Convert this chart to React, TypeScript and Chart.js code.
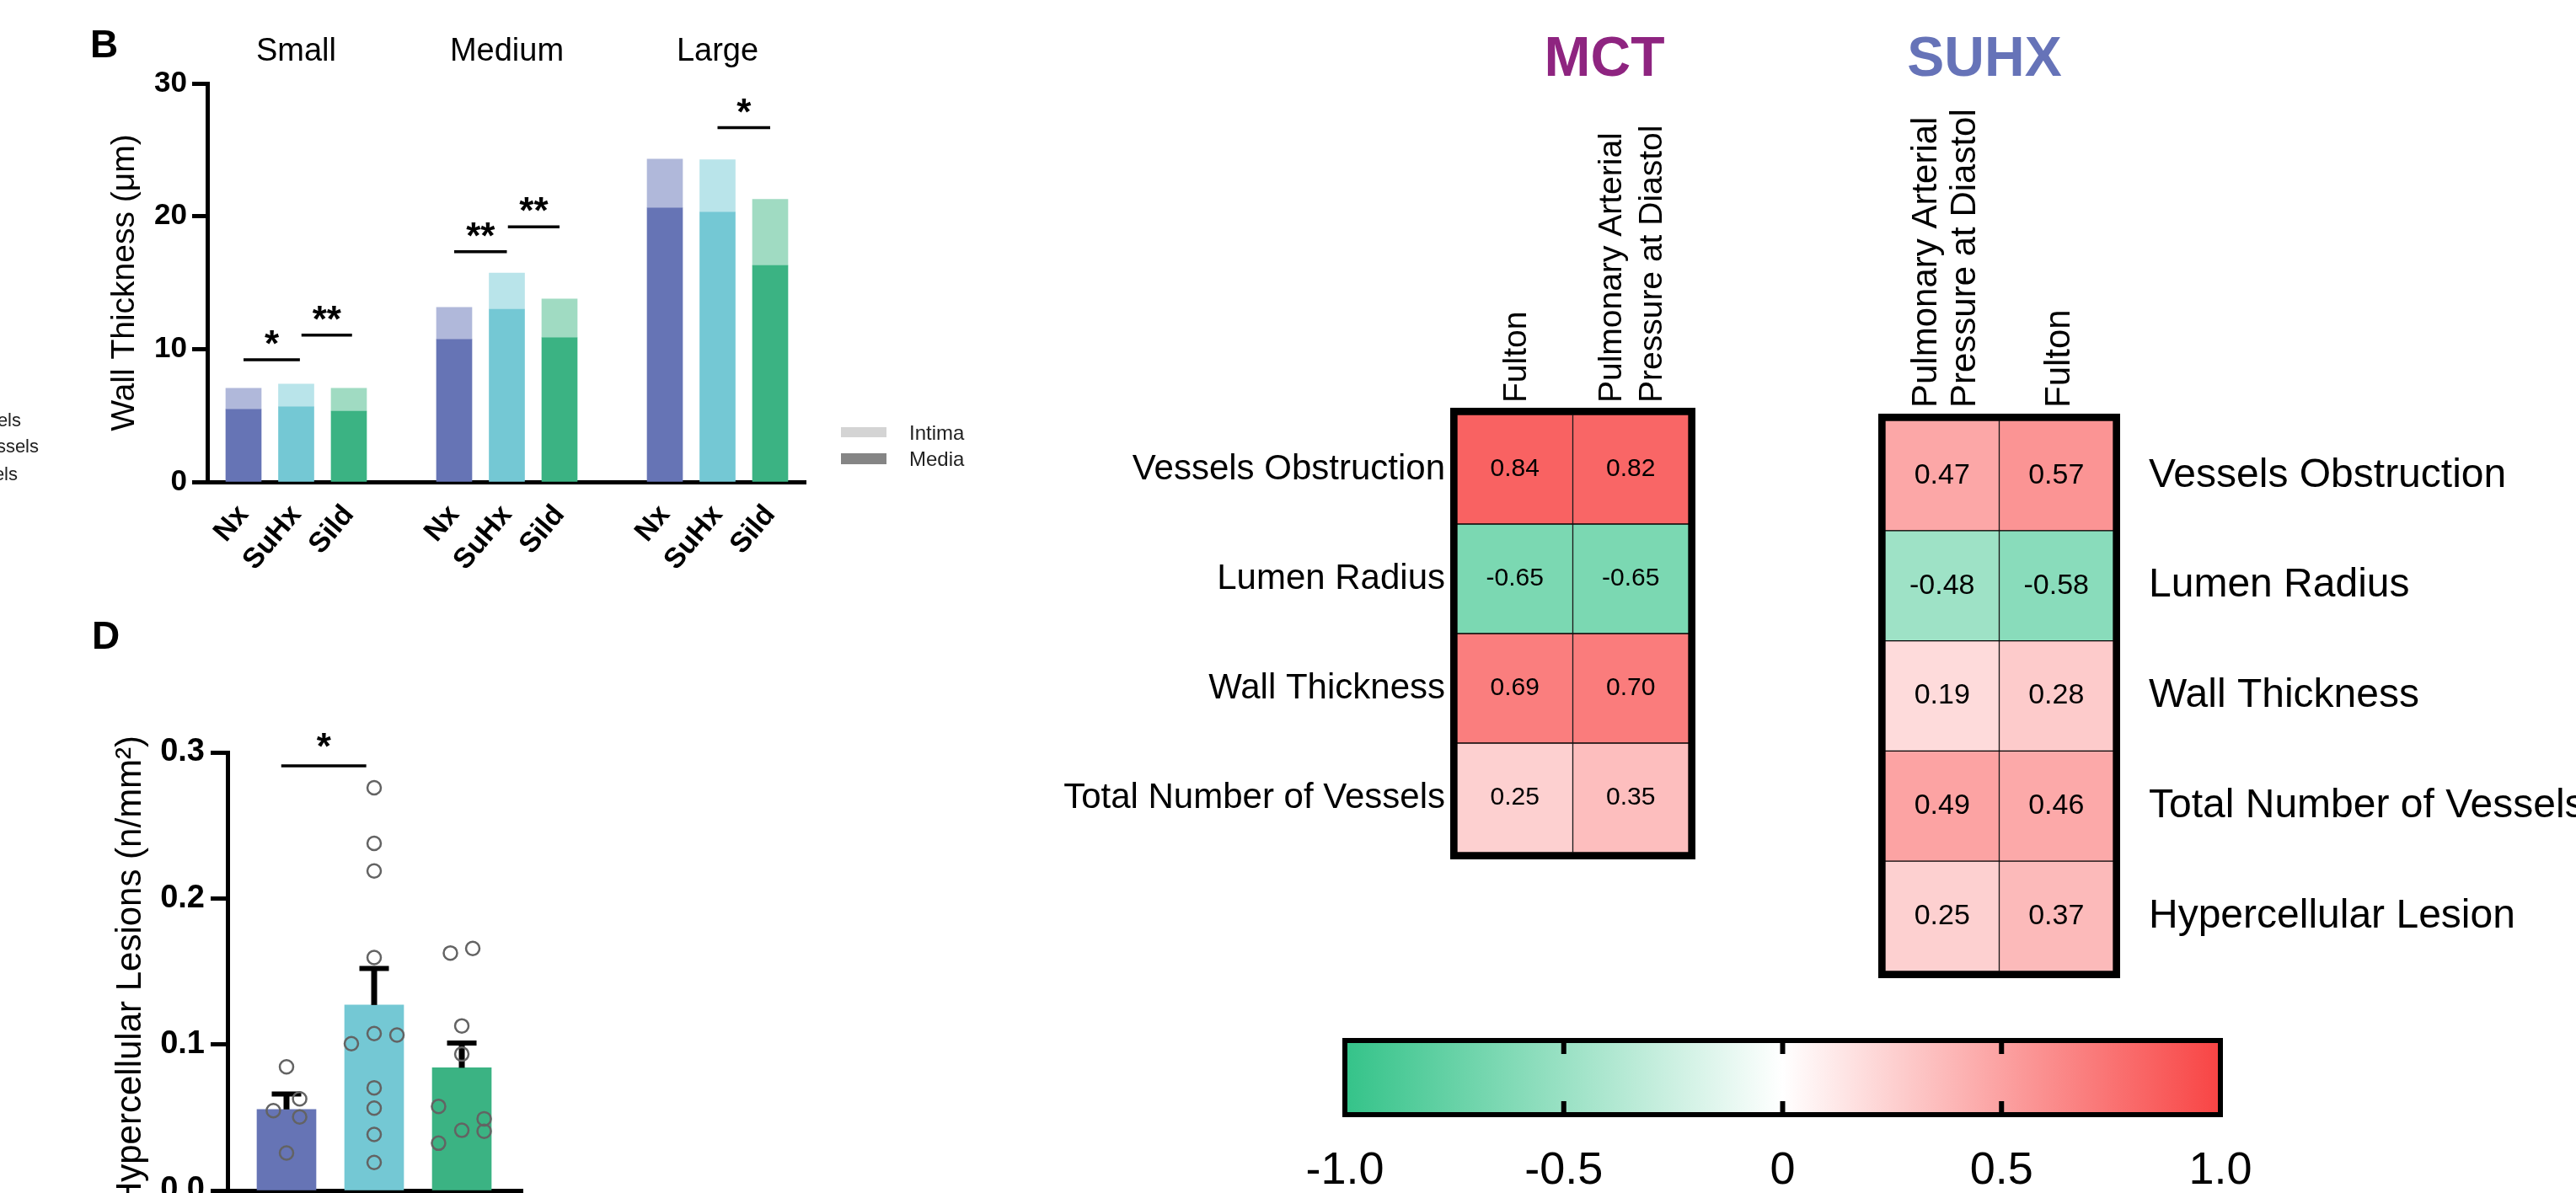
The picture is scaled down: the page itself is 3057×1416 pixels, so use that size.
import React, { useEffect, useRef } from 'react';
import { Chart, registerables } from 'chart.js';

Chart.register(...registerables);

const SANS = "'Liberation Sans', Arial, Helvetica, sans-serif";
Chart.defaults.font.family = SANS;
Chart.defaults.color = '#000';

// ---------------- Panel B : wall thickness ----------------
const vesselSizes = ['Small', 'Medium', 'Large'];
const groupNames = ['Nx', 'SuHx', 'Sild'];
const barSlotsB = [0, 1, 2, 4, 5, 6, 8, 9, 10];
const mediaB = [5.46, 5.65, 5.33, 10.73, 13.0, 10.86, 20.63, 20.3, 16.3];
const intimaB = [1.59, 1.72, 1.72, 2.41, 2.73, 2.92, 3.67, 3.95, 4.97];
const wallTicks = [0, 10, 20, 30];
const sigFromB = [0, 1.1, 4, 5.02, 9];
const sigToB = [1.07, 2.06, 5, 6, 10];
const sigLevelB = [9.2, 11.05, 17.33, 19.2, 26.67];
const sigTextB = ['*', '**', '**', '**', '*'];
const legendB = ['Intima', 'Media'];
const cutLegend = ['Small Vessels', 'Medium Vessels', 'Large Vessels'];
const mediaColors = ['#6674B5', '#74C8D4', '#3BB383'];
const intimaColors = ['#B0B8DA', '#B9E4EA', '#A0DBC2'];

// ---------------- Panel D : hypercellular lesions ----------------
const meanD = [0.0555, 0.127, 0.084];
const semD = [0.0105, 0.025, 0.017];
const nxPoints = [0.0847, 0.0627, 0.0547, 0.0503, 0.0257];
const nxJitter = [0, 0.15, -0.15, 0.15, 0];
const suhxPoints = [0.2758, 0.2377, 0.2188, 0.1595, 0.1005, 0.1075, 0.1064, 0.0703, 0.0564, 0.0384, 0.0192];
const suhxJitter = [0, 0, 0, 0, -0.26, 0, 0.26, 0, 0, 0, 0];
const sildPoints = [0.1626, 0.1657, 0.1127, 0.0934, 0.0576, 0.0491, 0.0412, 0.0406, 0.0324];
const sildJitter = [-0.13, 0.125, 0, 0, -0.265, 0.255, 0, 0.255, -0.265];
const lesionTicks = [0, 0.1, 0.2, 0.3];
const sigD = { from: -0.06, to: 0.91, level: 0.2908, text: '*' };

// ---------------- Correlation heatmaps ----------------
const mctRows = ['Vessels Obstruction', 'Lumen Radius', 'Wall Thickness', 'Total Number of Vessels'];
const mctFulton = [0.84, -0.65, 0.69, 0.25];
const mctPAPD = [0.82, -0.65, 0.7, 0.35];
const mctHeadTicks = [0.5, 1.325, 1.675];
const mctHeadLabels = ['Fulton', 'Pulmonary Arterial', 'Pressure at Diastol'];

const suhxRows = ['Vessels Obstruction', 'Lumen Radius', 'Wall Thickness', 'Total Number of Vessels', 'Hypercellular Lesion'];
const suhxPAPD = [0.47, -0.48, 0.19, 0.49, 0.25];
const suhxFulton = [0.57, -0.58, 0.28, 0.46, 0.37];
const suhxHeadTicks = [0.33, 0.67, 1.5];
const suhxHeadLabels = ['Pulmonary Arterial', 'Pressure at Diastol', 'Fulton'];

const colorbarTicks = [-1, -0.5, 0, 0.5, 1];
const colorbarLabels = ['-1.0', '-0.5', '0', '0.5', '1.0'];
const colorbarStubs = [-0.5, 0, 0.5];

const NEG = [52, 195, 137];
const POS = [248, 68, 68];
function corrColor(v: number) {
  const t = Math.min(1, Math.abs(v));
  const c = v < 0 ? NEG : POS;
  const m = c.map((k) => Math.round(255 + (k - 255) * t));
  return `rgb(${m[0]},${m[1]},${m[2]})`;
}

const base: any = {
  responsive: false,
  animation: false,
  devicePixelRatio: 1,
  events: [],
  plugins: { legend: { display: false }, tooltip: { enabled: false } },
};

// ---------------- configs ----------------
function makeB(): any {
  const plugin = {
    id: 'panelB',
    afterDatasetsDraw(chart: any) {
      const { ctx, scales } = chart;
      const x = scales.x, y = scales.y;
      ctx.save();
      ctx.fillStyle = '#000';
      ctx.strokeStyle = '#000';
      ctx.textBaseline = 'alphabetic';
      ctx.textAlign = 'left';
      ctx.font = `bold 46px ${SANS}`;
      ctx.fillText('B', 107, 68);
      ctx.font = `38px ${SANS}`;
      ctx.textAlign = 'center';
      vesselSizes.forEach((s, g) => ctx.fillText(s, x.getPixelForValue(barSlotsB[g * 3 + 1]), 72));
      ctx.lineWidth = 3.5;
      sigTextB.forEach((t, k) => {
        const y0 = y.getPixelForValue(sigLevelB[k]);
        const x1 = x.getPixelForValue(sigFromB[k]);
        const x2 = x.getPixelForValue(sigToB[k]);
        ctx.beginPath();
        ctx.moveTo(x1, y0);
        ctx.lineTo(x2, y0);
        ctx.stroke();
        ctx.font = `bold 44px ${SANS}`;
        ctx.fillText(t, (x1 + x2) / 2, y0 - 4);
      });
      // legend
      ctx.fillStyle = '#D4D4D4';
      ctx.fillRect(998, 507, 54, 12);
      ctx.fillStyle = '#858585';
      ctx.fillRect(998, 538, 54, 13);
      ctx.fillStyle = '#222';
      ctx.font = `24px ${SANS}`;
      ctx.textAlign = 'left';
      ctx.fillText(legendB[0], 1079, 522);
      ctx.fillText(legendB[1], 1079, 553);
      // cut-off legend from a neighbouring panel
      ctx.textAlign = 'right';
      ctx.font = `22px ${SANS}`;
      ctx.fillText(cutLegend[0], 25, 506);
      ctx.fillText(cutLegend[1], 46, 537);
      ctx.fillText(cutLegend[2], 21, 570);
      ctx.restore();
    },
  };
  return {
    type: 'bar',
    data: {
      datasets: [
        {
          label: 'Media',
          data: barSlotsB.map((s, i) => ({ x: s, y: mediaB[i] })),
          backgroundColor: barSlotsB.map((_, i) => mediaColors[i % 3]),
          barThickness: 42,
          borderWidth: 0,
        },
        {
          label: 'Intima',
          data: barSlotsB.map((s, i) => ({ x: s, y: intimaB[i] })),
          backgroundColor: barSlotsB.map((_, i) => intimaColors[i % 3]),
          barThickness: 42,
          borderWidth: 0,
        },
      ],
    },
    options: {
      ...base,
      layout: { padding: { left: 125, right: 244, top: 99, bottom: 0 } },
      scales: {
        x: {
          type: 'linear',
          stacked: true,
          offset: false,
          min: -0.688,
          max: 10.672,
          afterBuildTicks: (s: any) => {
            s.ticks = barSlotsB.map((v) => ({ value: v }));
          },
          afterFit: (s: any) => {
            s.height = 148;
          },
          ticks: {
            autoSkip: false,
            minRotation: 50,
            maxRotation: 50,
            padding: 20,
            color: '#000',
            font: { family: SANS, size: 34, weight: 'bold' },
            callback: (_v: any, i: number) => groupNames[i % 3],
          },
          grid: { display: false, drawTicks: false },
          border: { display: true, color: '#000', width: 5 },
        },
        y: {
          type: 'linear',
          stacked: true,
          min: 0,
          max: 30,
          afterBuildTicks: (s: any) => {
            s.ticks = wallTicks.map((v) => ({ value: v }));
          },
          afterFit: (s: any) => {
            s.width = 121;
          },
          ticks: { padding: 6, color: '#000', font: { family: SANS, size: 35, weight: 'bold' } },
          grid: { drawOnChartArea: false, drawTicks: true, tickLength: 18, tickWidth: 5, tickColor: '#000' },
          border: { display: true, color: '#000', width: 5 },
          title: { display: true, text: 'Wall Thickness (μm)', color: '#000', padding: 0, font: { family: SANS, size: 39 } },
        },
      },
    },
    plugins: [plugin],
  };
}

function makeD(): any {
  const pointSets = [
    { vals: nxPoints, jit: nxJitter },
    { vals: suhxPoints, jit: suhxJitter },
    { vals: sildPoints, jit: sildJitter },
  ];
  const points: any[] = [];
  pointSets.forEach((g, gi) => g.vals.forEach((v, k) => points.push({ x: gi + g.jit[k], y: v })));
  const plugin = {
    id: 'panelD',
    afterDatasetDraw(chart: any, args: any) {
      if (args.index !== 0) return;
      const { ctx, scales } = chart;
      const x = scales.x, y = scales.y;
      ctx.save();
      ctx.strokeStyle = '#000';
      meanD.forEach((m, i) => {
        const px = x.getPixelForValue(i);
        const yTop = y.getPixelForValue(m + semD[i]);
        ctx.lineWidth = 7;
        ctx.beginPath();
        ctx.moveTo(px, y.getPixelForValue(m));
        ctx.lineTo(px, yTop);
        ctx.stroke();
        ctx.lineWidth = 6;
        ctx.beginPath();
        ctx.moveTo(px - 17.5, yTop);
        ctx.lineTo(px + 17.5, yTop);
        ctx.stroke();
      });
      ctx.restore();
    },
    afterDatasetsDraw(chart: any) {
      const { ctx, scales } = chart;
      const x = scales.x, y = scales.y;
      ctx.save();
      ctx.fillStyle = '#000';
      ctx.strokeStyle = '#000';
      ctx.textBaseline = 'alphabetic';
      ctx.font = `bold 46px ${SANS}`;
      ctx.textAlign = 'left';
      ctx.fillText('D', 109, 120);
      const y0 = y.getPixelForValue(sigD.level);
      const x1 = x.getPixelForValue(sigD.from);
      const x2 = x.getPixelForValue(sigD.to);
      ctx.lineWidth = 3.5;
      ctx.beginPath();
      ctx.moveTo(x1, y0);
      ctx.lineTo(x2, y0);
      ctx.stroke();
      ctx.font = `bold 44px ${SANS}`;
      ctx.textAlign = 'center';
      ctx.fillText(sigD.text, (x1 + x2) / 2, y0 - 8);
      ctx.restore();
    },
  };
  return {
    type: 'bar',
    data: {
      datasets: [
        {
          type: 'bar',
          data: meanD.map((m, i) => ({ x: i, y: m })),
          backgroundColor: mediaColors,
          barThickness: 70,
          borderWidth: 0,
          order: 2,
        },
        {
          type: 'scatter',
          data: points,
          pointRadius: 8,
          pointBorderWidth: 2.5,
          borderColor: '#636363',
          pointBorderColor: '#636363',
          backgroundColor: 'rgba(0,0,0,0)',
          pointBackgroundColor: 'rgba(0,0,0,0)',
          order: 1,
        },
      ],
    },
    options: {
      ...base,
      layout: { padding: { left: 130, right: 80, top: 243, bottom: 137 } },
      scales: {
        x: {
          type: 'linear',
          offset: false,
          min: -0.673,
          max: 2.692,
          afterFit: (s: any) => {
            s.height = 0;
          },
          ticks: { display: false },
          grid: { display: false, drawTicks: false },
          border: { display: true, color: '#000', width: 5 },
        },
        y: {
          type: 'linear',
          min: 0,
          max: 0.3,
          afterBuildTicks: (s: any) => {
            s.ticks = lesionTicks.map((v) => ({ value: v }));
          },
          afterFit: (s: any) => {
            s.width = 140;
          },
          ticks: {
            padding: 7,
            color: '#000',
            font: { family: SANS, size: 38, weight: 'bold' },
            callback: (v: any) => Number(v).toFixed(1),
          },
          grid: { drawOnChartArea: false, drawTicks: true, tickLength: 20, tickWidth: 5, tickColor: '#000' },
          border: { display: true, color: '#000', width: 5 },
          title: {
            display: true,
            text: 'Hypercellular Lesions (n/mm²)',
            color: '#000',
            padding: 0,
            font: { family: SANS, size: 42 },
          },
        },
      },
    },
    plugins: [plugin],
  };
}

function makeHeat(p: any): any {
  const plugin = {
    id: 'heat',
    afterDatasetsDraw(chart: any) {
      const { ctx, chartArea: a, scales } = chart;
      const x = scales.x, y = scales.y;
      ctx.save();
      ctx.fillStyle = '#000';
      ctx.textAlign = 'center';
      ctx.textBaseline = 'middle';
      ctx.font = `${p.valueFont}px ${SANS}`;
      p.values.forEach((vals: number[], c: number) => {
        vals.forEach((v, r) => {
          ctx.fillText(v.toFixed(2), x.getPixelForValue(c + 0.5), y.getPixelForTick(r));
        });
      });
      ctx.strokeStyle = '#000';
      ctx.lineWidth = 8;
      ctx.strokeRect(a.left - 4, a.top - 4, a.right - a.left + 8, a.bottom - a.top + 8);
      ctx.fillStyle = p.titleColor;
      ctx.textBaseline = 'alphabetic';
      ctx.font = `bold 66px ${SANS}`;
      ctx.fillText(p.title, p.titleX, 90);
      ctx.restore();
    },
  };
  return {
    type: 'bar',
    data: {
      labels: p.rows,
      datasets: p.values.map((vals: number[], c: number) => ({
        data: vals.map(() => [c, c + 1]),
        backgroundColor: vals.map(corrColor),
        borderColor: '#000',
        borderWidth: 1,
        borderSkipped: false,
        grouped: false,
        barPercentage: 1,
        categoryPercentage: 1,
      })),
    },
    options: {
      ...base,
      indexAxis: 'y',
      layout: { padding: p.padding },
      scales: {
        x: {
          type: 'linear',
          position: 'top',
          offset: false,
          min: 0,
          max: 2,
          afterBuildTicks: (s: any) => {
            s.ticks = p.headTicks.map((v: number) => ({ value: v }));
          },
          afterFit: (s: any) => {
            s.height = p.xHeight;
          },
          ticks: {
            autoSkip: false,
            minRotation: 90,
            maxRotation: 90,
            labelOffset: p.labelOffset,
            padding: p.headPad,
            color: '#000',
            font: { family: SANS, size: p.colFont },
            callback: (_v: any, i: number) => p.headLabels[i],
          },
          grid: { display: false, drawTicks: false },
          border: { display: false },
        },
        y: {
          type: 'category',
          position: p.rowPos,
          afterFit: (s: any) => {
            s.width = p.yWidth;
          },
          ticks: { autoSkip: false, padding: p.rowPad, color: '#000', font: { family: SANS, size: p.rowFont } },
          grid: { display: false, drawTicks: false },
          border: { display: false },
        },
      },
    },
    plugins: [plugin],
  };
}

function makeColorbar(): any {
  const plugin = {
    id: 'cbar',
    afterDatasetsDraw(chart: any) {
      const { ctx, chartArea: a, scales } = chart;
      const x = scales.x;
      ctx.save();
      ctx.strokeStyle = '#000';
      ctx.lineWidth = 6;
      ctx.strokeRect(a.left, a.top, a.right - a.left, a.bottom - a.top);
      colorbarStubs.forEach((v) => {
        const px = x.getPixelForValue(v);
        ctx.beginPath();
        ctx.moveTo(px, a.top + 3);
        ctx.lineTo(px, a.top + 16);
        ctx.moveTo(px, a.bottom - 3);
        ctx.lineTo(px, a.bottom - 16);
        ctx.stroke();
      });
      ctx.restore();
    },
  };
  return {
    type: 'bar',
    data: {
      labels: [''],
      datasets: [
        {
          data: [[-1, 1]],
          borderWidth: 0,
          barPercentage: 1,
          categoryPercentage: 1,
          backgroundColor: (c: any) => {
            const a = c.chart.chartArea;
            if (!a) return '#fff';
            const g = c.chart.ctx.createLinearGradient(a.left, 0, a.right, 0);
            g.addColorStop(0, corrColor(-1));
            g.addColorStop(0.5, corrColor(0));
            g.addColorStop(1, corrColor(1));
            return g;
          },
        },
      ],
    },
    options: {
      ...base,
      indexAxis: 'y',
      layout: { padding: { left: 96, right: 115, top: 55, bottom: 0 } },
      scales: {
        x: {
          type: 'linear',
          offset: false,
          min: -1,
          max: 1,
          afterBuildTicks: (s: any) => {
            s.ticks = colorbarTicks.map((v) => ({ value: v }));
          },
          afterFit: (s: any) => {
            s.height = 93;
          },
          ticks: {
            autoSkip: false,
            maxRotation: 0,
            minRotation: 0,
            padding: 35,
            color: '#000',
            font: { family: SANS, size: 54 },
            callback: (_v: any, i: number) => colorbarLabels[i],
          },
          grid: { display: false, drawTicks: false },
          border: { display: false },
        },
        y: { display: false },
      },
    },
    plugins: [plugin],
  };
}

function ChartCanvas(props: { left: number; top: number; width: number; height: number; make: () => any }) {
  const ref = useRef<HTMLCanvasElement>(null);
  useEffect(() => {
    const chart = new Chart(ref.current as HTMLCanvasElement, props.make());
    return () => chart.destroy();
  }, []);
  return (
    <canvas
      ref={ref}
      width={props.width}
      height={props.height}
      style={{ position: 'absolute', left: props.left, top: props.top, width: props.width, height: props.height, display: 'block' }}
    />
  );
}

const mctConfig = () =>
  makeHeat({
    rows: mctRows,
    values: [mctFulton, mctPAPD],
    headTicks: mctHeadTicks,
    headLabels: mctHeadLabels,
    labelOffset: 49,
    headPad: 14,
    colFont: 39,
    rowFont: 42,
    rowPad: 14,
    rowPos: 'left',
    valueFont: 30,
    yWidth: 529,
    xHeight: 492,
    padding: { left: 0, right: 96, top: 0, bottom: 88 },
    title: 'MCT',
    titleColor: '#8E2480',
    titleX: 704,
  });

const suhxConfig = () =>
  makeHeat({
    rows: suhxRows,
    values: [suhxPAPD, suhxFulton],
    headTicks: suhxHeadTicks,
    headLabels: suhxHeadLabels,
    labelOffset: 55,
    headPad: 15,
    colFont: 42,
    rowFont: 48,
    rowPad: 42,
    rowPos: 'right',
    valueFont: 34,
    yWidth: 549,
    xHeight: 499,
    padding: { left: 137, right: 0, top: 0, bottom: 147 },
    title: 'SUHX',
    titleColor: '#6673B8',
    titleX: 255,
  });

export default function App() {
  return (
    <div
      style={{
        position: 'fixed',
        left: 0,
        top: 0,
        width: 3057,
        height: 1416,
        overflow: 'hidden',
        background: '#fff',
      }}
    >
      <ChartCanvas left={0} top={0} width={1200} height={720} make={makeB} />
      <ChartCanvas left={0} top={650} width={700} height={900} make={makeD} />
      <ChartCanvas left={1200} top={0} width={900} height={1100} make={mctConfig} />
      <ChartCanvas left={2100} top={0} width={957} height={1300} make={suhxConfig} />
      <ChartCanvas left={1500} top={1180} width={1250} height={236} make={makeColorbar} />
    </div>
  );
}
